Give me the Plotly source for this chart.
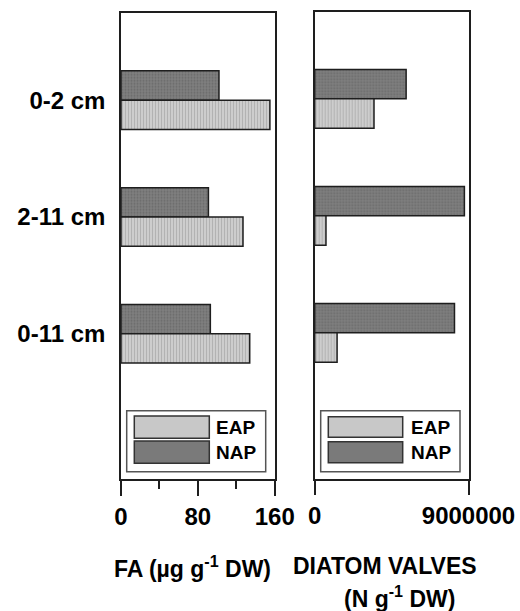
import plotly.graph_objects as go

# Sediment layers (top to bottom) and the two sampling sites
depths = ["0-2 cm", "2-11 cm", "0-11 cm"]

# Fatty acids, µg g-1 dry weight
fa_nap = [102, 91, 93]
fa_eap = [155, 127, 134]

# Diatom valves, number per g dry weight
diatom_nap = [5350000, 8760000, 8180000]
diatom_eap = [3470000, 660000, 1310000]

fa_ticks = [0, 80, 160]
diatom_ticks = [0, 9000000]
diatom_ticktext = ["0", "9000000"]

W, H = 520, 611
FONT = "Arial, Liberation Sans, sans-serif"
EDGE = "#1e1e1e"

eap_marker = dict(
    color="#c8c8c8",
    line=dict(color=EDGE, width=1.5),
    pattern=dict(shape="|", fgcolor="#b2b2b2", bgcolor="#d0d0d0", size=3, solidity=0.4),
)
nap_marker = dict(
    color="#7a7a7a",
    line=dict(color=EDGE, width=1.5),
    pattern=dict(shape=".", fgcolor="#6a6a6a", bgcolor="#808080", size=3, solidity=0.35),
)


def px(x):
    return x / W


def py(y):
    return 1 - y / H


fig = go.Figure()

# NAP first so it sits above EAP within each depth group
fig.add_trace(go.Bar(y=depths, x=fa_nap, orientation="h", name="NAP",
                     marker=nap_marker, xaxis="x", yaxis="y"))
fig.add_trace(go.Bar(y=depths, x=fa_eap, orientation="h", name="EAP",
                     marker=eap_marker, xaxis="x", yaxis="y"))
fig.add_trace(go.Bar(y=depths, x=diatom_nap, orientation="h", name="NAP",
                     marker=nap_marker, xaxis="x2", yaxis="y2"))
fig.add_trace(go.Bar(y=depths, x=diatom_eap, orientation="h", name="EAP",
                     marker=eap_marker, xaxis="x2", yaxis="y2"))

y_range = [3.247, -0.744]
common_x = dict(
    automargin=False,
    showline=True, linecolor=EDGE, linewidth=1.5, mirror=True,
    showgrid=False, zeroline=False, ticks="outside", ticklen=15,
    tickwidth=1.5, tickcolor=EDGE,
    tickfont=dict(family=FONT, size=24, color="black", weight="bold"),
)
common_y = dict(
    automargin=False,
    type="category", categoryorder="array", categoryarray=depths,
    range=y_range, showline=True, linecolor=EDGE, linewidth=1.5, mirror=True,
    showgrid=False, zeroline=False, ticks="",
)

fig.update_layout(
    template="none",
    width=W, height=H,
    margin=dict(l=0, r=0, t=0, b=0, autoexpand=False),
    paper_bgcolor="white", plot_bgcolor="white",
    barmode="group", bargap=0.498, bargroupgap=0,
    showlegend=False,
    xaxis=dict(domain=[px(121), px(274.7)], range=[0, 160], anchor="y",
               tickmode="array", tickvals=fa_ticks,
               minor=dict(dtick=40, tick0=0, ticks="outside", ticklen=8,
                          tickwidth=1.5, tickcolor=EDGE, showgrid=False),
               **common_x),
    yaxis=dict(domain=[py(479.3), py(13.3)], anchor="x",
               tickfont=dict(family=FONT, size=24, color="black", weight="bold"),
               ticklabelstandoff=9,
               **common_y),
    xaxis2=dict(domain=[px(314.7), px(468.5)], range=[0, 9000000], anchor="y2",
                tickmode="array", tickvals=diatom_ticks, ticktext=diatom_ticktext,
                **common_x),
    yaxis2=dict(domain=[py(478.7), py(11.7)], anchor="x2",
                showticklabels=False, **common_y),
)

shapes = []
annotations = []


def add_legend(box, sw_x, eap_y, nap_y, text_x):
    shapes.append(dict(type="rect", xref="paper", yref="paper",
                       x0=px(box[0]), x1=px(box[2]), y0=py(box[3]), y1=py(box[1]),
                       line=dict(color="#555555", width=1.5), fillcolor="white"))
    for (y0, y1), fill, label in [(eap_y, "#c8c8c8", "EAP"), (nap_y, "#7a7a7a", "NAP")]:
        shapes.append(dict(type="rect", xref="paper", yref="paper",
                           x0=px(sw_x[0]), x1=px(sw_x[1]), y0=py(y1), y1=py(y0),
                           line=dict(color="#333333", width=1.5), fillcolor=fill))
        annotations.append(dict(xref="paper", yref="paper", x=px(text_x),
                                y=py((y0 + y1) / 2), xanchor="left", yanchor="middle",
                                text=label, showarrow=False,
                                font=dict(family=FONT, size=19, color="black", weight="bold")))


add_legend((126.7, 410.7, 265.7, 471.7), (134.3, 209.3), (416, 438.3), (441, 463.3), 214)
add_legend((320.7, 410.7, 460, 471.7), (328.3, 402.7), (416.7, 437.3), (441.7, 462.7), 409)

title_font = dict(family=FONT, size=23, color="black", weight="bold")
annotations.append(dict(xref="paper", yref="paper", x=px(192.5), y=py(567),
                        xanchor="center", yanchor="middle", showarrow=False,
                        text="FA (µg g<sup>-1</sup> DW)", font=title_font))
annotations.append(dict(xref="paper", yref="paper", x=px(385), y=py(566),
                        xanchor="center", yanchor="middle", showarrow=False,
                        text="DIATOM VALVES", font=title_font))
annotations.append(dict(xref="paper", yref="paper", x=px(399.5), y=py(597),
                        xanchor="center", yanchor="middle", showarrow=False,
                        text="(N g<sup>-1</sup> DW)", font=title_font))

fig.update_layout(shapes=shapes, annotations=annotations)

fig.write_html("out.html")
